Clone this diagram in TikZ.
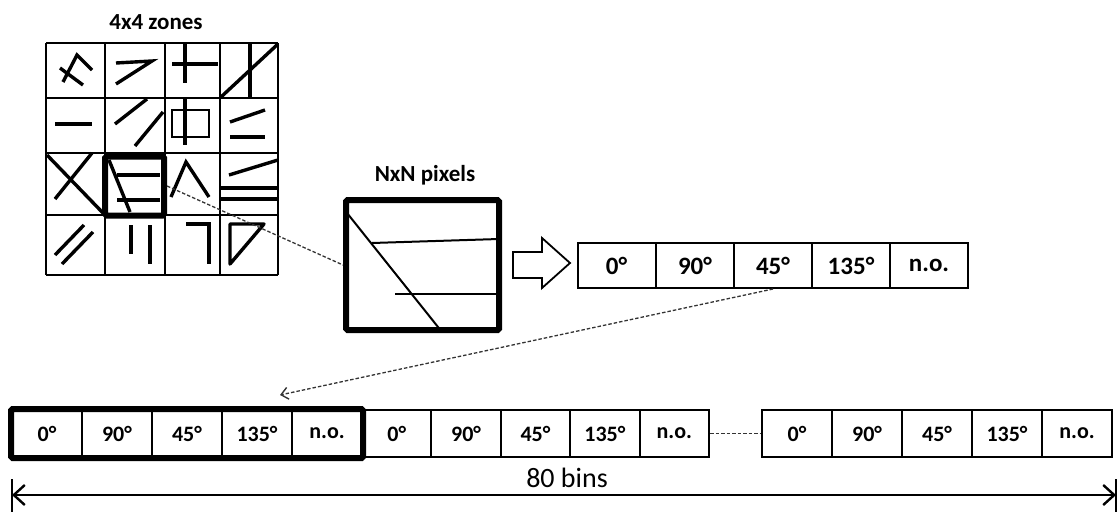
\documentclass[tikz,border=0pt]{standalone}
\usepackage{fontspec}
\setmainfont{Carlito}
\usetikzlibrary{arrows.meta,fit}
\begin{document}
\begin{tikzpicture}[x=1pt,y=-1pt,
  gridline/.style={line width=2pt},
  stroke/.style={line width=3.4pt},
  heavy/.style={line width=4.2pt},
  thin/.style={line width=2pt},
  frame/.style={draw, line width=6pt, rounded corners=1.5pt, inner sep=0pt},
  title/.style={font=\bfseries\fontsize{23}{23}\selectfont},
  topcell/.style={draw, line width=2pt, minimum width=78pt, minimum height=45pt, inner sep=0pt, font=\bfseries\fontsize{25}{25}\selectfont},
  botcell/.style={draw, line width=2pt, minimum height=47pt, inner sep=0pt, font=\bfseries\fontsize{22}{22}\selectfont},
  dashline/.style={black!80, line width=1.3pt, dash pattern=on 3.5pt off 2pt},
  dimtip/.tip={Straight Barb[length=11pt,width=20pt,line width=2.4pt]},
  blockarrow/.style={draw, line width=1.8pt, line join=miter}
]
\useasboundingbox (0,0) rectangle (1118,511);

% ---- 4x4 zones grid ----
\node[title] (zonestitle) at (156,22) {4x4 zones};
\foreach \x in {46,105,165,220,278} \draw[gridline] (\x,43) -- (\x,275);
\foreach \y in {43,98,153,215,275} \draw[gridline] (46,\y) -- (278,\y);

% row 1
\draw[stroke] (63,82) -- (77,55) -- (92,70);
\draw[stroke] (60,68) -- (83,85);
\draw[stroke] (116,63) -- (152,61) -- (116,84);
\draw[stroke] (172,64) -- (218,64);
\draw[stroke] (185,43) -- (185,83);
\draw[stroke] (250,43) -- (250,98);
\draw[stroke] (221,97) -- (278,44);
% row 2
\draw[stroke] (55,124) -- (92,124);
\draw[stroke] (115,124) -- (147,99);
\draw[stroke] (135,146) -- (163,112);
\draw[thin] (172,110) rectangle (209,137);
\draw[stroke] (185,98) -- (185,145);
\draw[stroke] (230,122) -- (265,110);
\draw[heavy] (230,137) -- (265,137);
% row 3
\draw[stroke] (47,155) -- (103,213);
\draw[stroke] (55,199) -- (92,153);
\draw[stroke] (109,160) -- (130,212);
\draw[stroke] (117,175) -- (160,175);
\draw[stroke] (117,200) -- (160,200);
\draw[stroke] (171,197) -- (186,162) -- (209,197);
\draw[stroke] (229,175) -- (278,160);
\draw[heavy] (220,188) -- (278,188);
\draw[heavy] (220,199) -- (278,199);
% row 4
\draw[stroke] (55,255) -- (84,225);
\draw[stroke] (62,264) -- (93,232);
\draw[stroke] (131,225) -- (131,254);
\draw[stroke] (150,225) -- (150,264);
\draw[stroke] (186,224) -- (209,224) -- (209,264);
\draw[stroke, line join=round] (230,224) -- (230,264) -- (264,224) -- cycle;

\node[frame, minimum width=59pt, minimum height=59pt] (zone) at (134.5,186) {};

% ---- NxN pixels ----
\node[title] (pixtitle) at (425,175) {NxN pixels};
\node[frame, minimum width=153pt, minimum height=130pt] (pix) at (422.5,265) {};
\draw[thin] (347,213) -- (442,332);
\draw[thin] (372,243) -- (499,239);
\draw[thin] (395,294) -- (499,294);

\draw[dashline] (zone.east) -- (pix.west);

% ---- block arrow ----
\draw[blockarrow] (513,252) -- (542,252) -- (542,238) -- (570,263)
  -- (542,288) -- (542,278) -- (513,278) -- cycle;

% ---- top bins ----
\node[topcell] (t1) at (616.5,265.5) {0°};
\node[topcell] (t2) at (695,265.5) {90°};
\node[topcell] (t3) at (773,265.5) {45°};
\node[topcell] (t4) at (851,265.5) {135°};
\node[topcell] (t5) at (929,265.5) {n.o.};

\coordinate (arrtip) at (280,395);
\draw[dashline, -{Straight Barb[length=7pt,width=12pt,line width=1.4pt]}] (t3.south) -- (arrtip);

% ---- bottom bins ----
\foreach \i/\t in {1/0°,2/90°,3/45°,4/135°,5/n.o.} {
  \node[botcell, minimum width=70pt] (a\i) at (12+70*\i-35,433.5) {\t};
  \node[botcell, minimum width=69.4pt] (b\i) at (362+69.4*\i-34.7,433.5) {\t};
  \node[botcell, minimum width=70pt] (c\i) at (762+70*\i-35,433.5) {\t};
}
\node[frame, fit=(a1)(a5)] (group1) {};
\draw[dashline] (b5.east) -- (c1.west);

% ---- dimension line ----
\coordinate (dl) at (12,495);
\coordinate (dr) at (1116,495);
\draw[line width=2.4pt, dimtip-dimtip] (dl) -- (dr);
\draw[line width=2.4pt] ([yshift=-18pt]dl) -- ([yshift=16pt]dl);
\draw[line width=2.4pt] ([yshift=-18pt]dr) -- ([yshift=16pt]dr);
\node[font=\fontsize{28}{28}\selectfont] (bins) at (567,478) {80 bins};
\end{tikzpicture}
\end{document}
